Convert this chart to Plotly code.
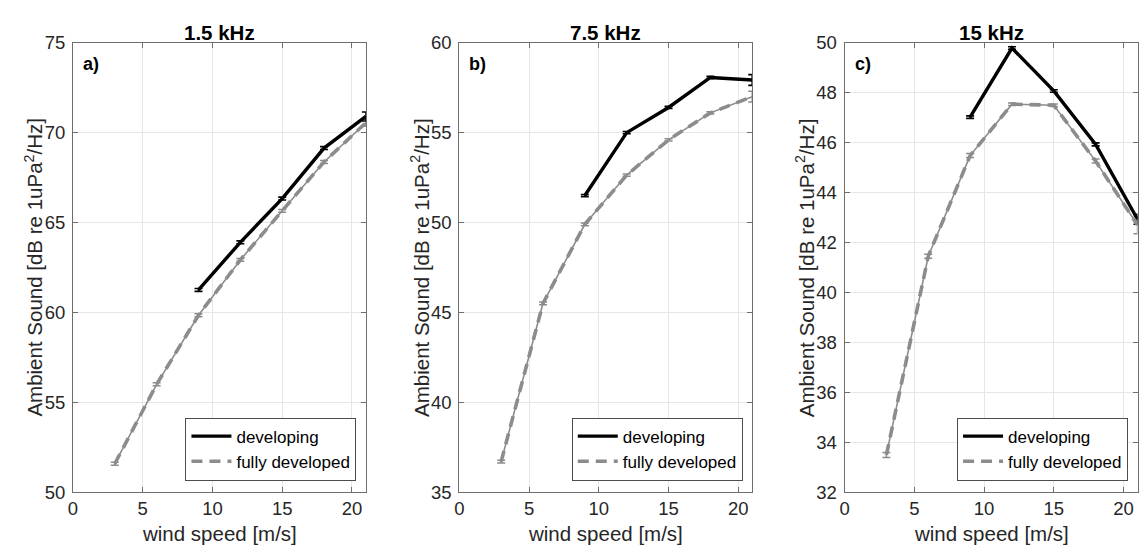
import plotly.graph_objects as go

# ---------------- data ----------------
wind_dev = [9, 12, 15, 18, 21]
wind_full = [3, 6, 9, 12, 15, 18, 21]

titles = ["1.5 kHz", "7.5 kHz", "15 kHz"]
panel_labels = ["a)", "b)", "c)"]

dev_15 = [61.25, 63.9, 66.33, 69.14, 70.9]
dev_15_err = [0.08, 0.08, 0.08, 0.08, 0.25]
full_15 = [51.58, 56.0, 59.84, 62.92, 65.65, 68.37, 70.55]
full_15_err = [0.08, 0.08, 0.08, 0.08, 0.08, 0.08, 0.2]

dev_75 = [51.5, 55.0, 56.4, 58.07, 57.93]
dev_75_err = [0.06, 0.06, 0.06, 0.06, 0.3]
full_75 = [36.7, 45.5, 49.9, 52.64, 54.6, 56.1, 57.0]
full_75_err = [0.08, 0.08, 0.08, 0.06, 0.06, 0.06, 0.3]

dev_150 = [47.02, 49.79, 48.07, 45.93, 42.93]
dev_150_err = [0.05, 0.05, 0.05, 0.06, 0.2]
full_150 = [33.49, 41.45, 45.48, 47.54, 47.5, 45.26, 42.7]
full_150_err = [0.1, 0.08, 0.08, 0.05, 0.05, 0.08, 0.35]

y_ranges = [[50, 75], [35, 60], [32, 50]]
y_dticks = [5, 5, 2]
x_range = [0, 21]
x_ticks = [0, 5, 10, 15, 20]

dev_series = [dev_15, dev_75, dev_150]
dev_errs = [dev_15_err, dev_75_err, dev_150_err]
full_series = [full_15, full_75, full_150]
full_errs = [full_15_err, full_75_err, full_150_err]

# ---------------- layout geometry ----------------
W, H = 1139, 557
panel_left = [68.3, 456.7, 844.0]
panel_w = 294.5
top_px, bottom_px = 33, 500


def px(x):
    return x / W


def py(y):
    return 1 - y / H


BLACK = "#000000"
GRAY = "#8c8c8c"
TXT = "#262626"
FONT = "Liberation Sans, Arial, Helvetica, sans-serif"

fig = go.Figure()
annotations = []
layout_extra = {}

for i in range(3):
    n = "" if i == 0 else str(i + 1)
    xa, ya = "x" + n, "y" + n
    leg = "legend" + n

    # fully developed: thin solid line carrying the error bars
    fig.add_trace(go.Scatter(
        x=wind_full, y=full_series[i], mode="lines", xaxis=xa, yaxis=ya,
        line=dict(color=GRAY, width=1.6), showlegend=False, hoverinfo="skip",
        error_y=dict(type="data", array=full_errs[i], color=GRAY,
                     thickness=1.5, width=4),
    ))
    # developing
    fig.add_trace(go.Scatter(
        x=wind_dev, y=dev_series[i], mode="lines", xaxis=xa, yaxis=ya,
        name="developing", legend=leg,
        line=dict(color=BLACK, width=3.4),
        error_y=dict(type="data", array=dev_errs[i], color=BLACK,
                     thickness=1.6, width=4),
    ))
    # fully developed: thick dashed overlay
    fig.add_trace(go.Scatter(
        x=wind_full, y=full_series[i], mode="lines", xaxis=xa, yaxis=ya,
        name="fully developed", legend=leg,
        line=dict(color=GRAY, width=3.6, dash="11px,7px"),
    ))

    x0 = panel_left[i]
    x1 = x0 + panel_w
    axis_common = dict(
        showline=True, linecolor="#6e6e6e", linewidth=1, mirror="ticks",
        ticks="inside", ticklen=5, tickcolor="#6e6e6e", tickwidth=1,
        showgrid=True, gridcolor="#e6e6e6", gridwidth=1, zeroline=False,
        tickfont=dict(family=FONT, size=18.5, color=TXT),
    )
    layout_extra["xaxis" + n] = dict(
        axis_common, domain=[px(x0), min(px(x1), 1.0)], range=x_range,
        tickvals=x_ticks, anchor=ya,
    )
    layout_extra["yaxis" + n] = dict(
        axis_common, domain=[py(bottom_px), py(top_px)], range=y_ranges[i],
        dtick=y_dticks[i], tick0=0, anchor=xa, ticklabelstandoff=3,
    )
    layout_extra[leg] = dict(
        x=px(x1 - 9.5), y=py(488), xanchor="right", yanchor="bottom",
        xref="paper", yref="paper",
        bgcolor="white", bordercolor="#4d4d4d", borderwidth=1,
        font=dict(family=FONT, size=17, color=BLACK),
        itemwidth=40, tracegroupgap=0,
    )

    cx = (x0 + x1) / 2
    annotations.append(dict(
        text="<b>" + titles[i] + "</b>", x=px(cx), y=py(22), xref="paper",
        yref="paper", showarrow=False, xanchor="center", yanchor="middle",
        font=dict(family=FONT, size=20.5, color=BLACK),
    ))
    annotations.append(dict(
        text="<b>" + panel_labels[i] + "</b>", x=px(x0 + 8), y=py(55),
        xref="paper", yref="paper", showarrow=False, xanchor="left",
        yanchor="middle", font=dict(family=FONT, size=18, color=BLACK),
    ))
    annotations.append(dict(
        text="wind speed [m/s]", x=px(cx), y=py(543), xref="paper",
        yref="paper", showarrow=False, xanchor="center", yanchor="middle",
        font=dict(family=FONT, size=20.5, color=TXT),
    ))
    annotations.append(dict(
        text="Ambient Sound [dB re 1uPa<sup>2</sup>/Hz]", x=px(x0 - 39),
        y=py((top_px + bottom_px) / 2), xref="paper", yref="paper",
        showarrow=False, xanchor="center", yanchor="middle", textangle=-90,
        font=dict(family=FONT, size=20.5, color=TXT),
    ))

fig.update_layout(
    width=W, height=H, margin=dict(l=0, r=0, t=0, b=0),
    paper_bgcolor="white", plot_bgcolor="white",
    annotations=annotations, **layout_extra,
)

fig.write_html(
    "out.html",
    config={"displayModeBar": False},
    post_script="document.body.style.margin='0';document.body.style.overflow='hidden';",
)
